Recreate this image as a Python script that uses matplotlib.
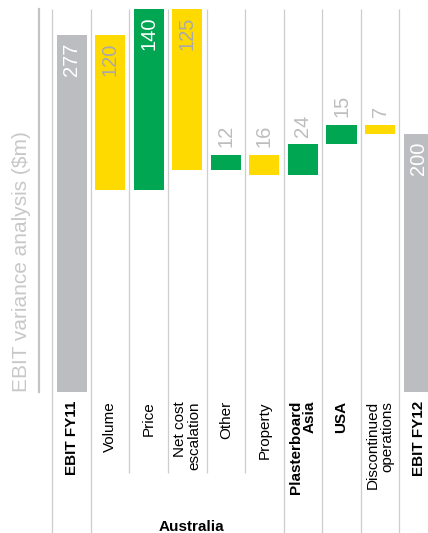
import numpy as np
import matplotlib
matplotlib.use('Agg')
import matplotlib.pyplot as plt

### ======================================================================
### Data: EBIT bridge FY11 -> FY12 ($m)
### ======================================================================

categories = ['EBIT FY11', 'Volume', 'Price', 'Net cost\nescalation', 'Other',
              'Property', 'Plasterboard\nAsia', 'USA', 'Discontinued\noperations',
              'EBIT FY12']
values = [277, -120, 140, -125, 12, -16, 24, 15, -7, 200]
is_total = [True, False, False, False, False, False, False, False, False, True]
bold_labels = ['EBIT FY11', 'Plasterboard\nAsia', 'USA', 'EBIT FY12']
group_name = 'Australia'
group_members = ['Volume', 'Price', 'Net cost\nescalation', 'Other', 'Property']

GREY = '#bcbdc0'
YELLOW = '#ffda00'
GREEN = '#00a651'
LINE = '#cdcdcd'
TXT = '#bdbdbd'
TXT_ON_YELLOW = '#a9a9a9'

### ======================================================================
### Waterfall geometry
### ======================================================================

bottoms, heights, colors = [], [], []
running = 0
for v, tot in zip(values, is_total):
    if tot:
        bottoms.append(0)
        heights.append(v)
        colors.append(GREY)
        running = v
    else:
        if v >= 0:
            bottoms.append(running)
            colors.append(GREEN)
        else:
            bottoms.append(running + v)
            colors.append(YELLOW)
        heights.append(abs(v))
        running += v

x = np.arange(len(categories))

fig = plt.figure(figsize=(4.28, 5.33), dpi=100)
ax = fig.add_axes([39/428, 1 - 392/533, 1 - 39/428, 383/533])

ax.bar(x, heights, bottom=bottoms, width=0.78, color=colors, zorder=3)

ymax = max(b + h for b, h in zip(bottoms, heights))
ax.set_ylim(0, ymax)
ax.set_xlim(-0.845, 9.243)

for s in ['top', 'right', 'bottom']:
    ax.spines[s].set_visible(False)
ax.spines['left'].set_color('#c4c4c4')
ax.spines['left'].set_linewidth(1.6)
ax.set_xticks([])
ax.set_yticks([])

# separators between columns, running down into the label area
px = ymax / 383.0
grp = [categories.index(c) for c in group_members]
for i in range(len(categories)):
    sep = i - 0.5
    short = (i - 1) in grp and i in grp
    low = -(473 - 392) * px if short else -(540 - 392) * px
    ax.vlines(sep, low, ymax, color=LINE, lw=0.9, clip_on=False, zorder=1)

# value labels
for i, (b, h, c, v) in enumerate(zip(bottoms, heights, colors, values)):
    lab = str(abs(v))
    if h > 50:
        col = TXT_ON_YELLOW if c == YELLOW else 'white'
        ax.annotate(lab, (i, b + h), xytext=(0, -5.5), textcoords='offset points',
                    rotation=90, ha='center', va='top', fontsize=14.5,
                    family='Liberation Sans', color=col, zorder=4)
    else:
        ax.annotate(lab, (i, b + h), xytext=(0, 5.5), textcoords='offset points',
                    rotation=90, ha='center', va='bottom', fontsize=14.5,
                    family='Liberation Sans', color=TXT, zorder=4)

# category labels
for i, lab in enumerate(categories):
    ax.annotate(lab, (i, 0), xytext=(0, -6.5), textcoords='offset points',
                rotation=90, ha='center', va='top', multialignment='right',
                fontsize=11, family='Liberation Sans', linespacing=1.0,
                fontweight='bold' if lab in bold_labels else 'normal',
                color='black', annotation_clip=False)

ax.annotate(group_name, (np.mean(grp) + 0.12, 0), xytext=(0, -97), textcoords='offset points',
            ha='center', va='center', fontsize=11, family='Liberation Sans',
            fontweight='bold', color='black', annotation_clip=False)

ax.text(-0.044, 0, 'EBIT variance analysis ($m)', transform=ax.transAxes,
        rotation=90, ha='center', va='bottom', fontsize=15, family='Liberation Sans',
        color='#c8c8c8')

plt.savefig('out.png', dpi=100)
